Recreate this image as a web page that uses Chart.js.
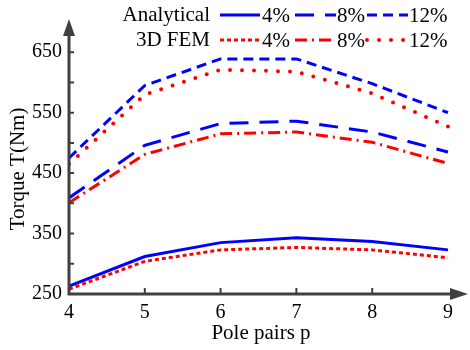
<!DOCTYPE html>
<html>
<head>
<meta charset="utf-8">
<script src="https://cdn.jsdelivr.net/npm/chart.js@4"></script>
<style>
    body { margin: 0; background: #fff; }
    canvas { display: block; }
</style>
</head>
<body>
<canvas id="torqueChart" width="470" height="350"></canvas>
<script>
// Pole pairs on the x axis
const polePairs = [4, 5, 6, 7, 8, 9];

// Torque values (Nm)
const analytical4 = [263, 312, 335, 343, 337, 323];
const analytical8 = [409, 496, 532, 536, 518, 485];
const analytical12 = [475, 595, 639, 639, 598, 550];
const fem4 = [258, 304, 323, 327, 323, 310];
const fem8 = [401, 481, 515, 518, 501, 466];
const fem12 = [465, 580, 621, 618, 582, 527];

// Tick values
const yTickValues = [250, 300, 350, 400, 450, 500, 550, 600, 650];
const yLabelValues = [250, 350, 450, 550, 650];

const rowLabels = ['Analytical', '3D FEM'];
const pctLabels = ['4%', '8%', '12%'];

const BLUE = '#0000ff';
const RED = '#ff0000';
const AXIS = '#404040';
const FONT = 'Liberation Serif, Times New Roman, serif';

function toPoints(values) {
    return values.map((v, i) => ({ x: polePairs[i], y: v }));
}

function makeSeries(label, values, color, dash, width, cap) {
    return {
        label: label,
        data: toPoints(values),
        borderColor: color,
        backgroundColor: color,
        borderWidth: width,
        borderDash: dash,
        borderCapStyle: cap || 'butt',
        pointRadius: 0,
        tension: 0,
        fill: false
    };
}

const datasets = [
    makeSeries('3D FEM 4%', fem4, RED, [4, 3], 3),
    makeSeries('3D FEM 8%', fem8, RED, [12, 5, 2, 5], 3),
    makeSeries('3D FEM 12%', fem12, RED, [0, 12], 4, 'round'),
    makeSeries('Analytical 4%', analytical4, BLUE, [], 3),
    makeSeries('Analytical 8%', analytical8, BLUE, [19, 11], 3),
    makeSeries('Analytical 12%', analytical12, BLUE, [10, 6], 3)
];

// Axes, inward ticks, arrows, titles and the two-row legend
const decorPlugin = {
    id: 'decor',
    afterDraw(chart) {
        const ctx = chart.ctx;
        const area = chart.chartArea;
        const xs = chart.scales.x;
        const ys = chart.scales.y;
        ctx.save();

        // axis lines
        ctx.strokeStyle = AXIS;
        ctx.fillStyle = AXIS;
        ctx.lineWidth = 3;
        ctx.beginPath();
        ctx.moveTo(area.left, area.top + 10);
        ctx.lineTo(area.left, area.bottom);
        ctx.lineTo(area.right - 12, area.bottom);
        ctx.stroke();

        // arrows
        ctx.beginPath();
        ctx.moveTo(area.left, area.top);
        ctx.lineTo(area.left - 6, area.top + 17);
        ctx.lineTo(area.left + 6, area.top + 17);
        ctx.closePath();
        ctx.fill();
        ctx.beginPath();
        ctx.moveTo(area.right, area.bottom);
        ctx.lineTo(area.right - 18, area.bottom - 6);
        ctx.lineTo(area.right - 18, area.bottom + 6);
        ctx.closePath();
        ctx.fill();

        // inward tick marks
        ctx.lineWidth = 2;
        ctx.beginPath();
        yTickValues.forEach(v => {
            const py = ys.getPixelForValue(v);
            ctx.moveTo(area.left, py);
            ctx.lineTo(area.left + 5, py);
        });
        polePairs.slice(1, -1).forEach(v => {
            const px = xs.getPixelForValue(v);
            ctx.moveTo(px, area.bottom);
            ctx.lineTo(px, area.bottom - 6);
        });
        ctx.stroke();

        // axis titles
        ctx.fillStyle = '#000';
        ctx.font = '21px ' + FONT;
        ctx.textAlign = 'center';
        ctx.textBaseline = 'middle';
        ctx.fillText('Pole pairs p', 261, 333);
        ctx.save();
        ctx.translate(18, 169);
        ctx.rotate(-Math.PI / 2);
        ctx.fillText('Torque T(Nm)', 0, 0);
        ctx.restore();

        // legend
        const rowY = [15, 40];
        const segs = [[220, 260], [295, 336], [367, 408]];
        const textX = [262, 337, 409];
        const order = [[3, 4, 5], [0, 1, 2]];
        rowLabels.forEach((name, r) => {
            ctx.fillStyle = '#000';
            ctx.font = '21px ' + FONT;
            ctx.textAlign = 'right';
            ctx.textBaseline = 'middle';
            ctx.fillText(name, 210, rowY[r]);
            order[r].forEach((di, k) => {
                const ds = chart.data.datasets[di];
                ctx.strokeStyle = ds.borderColor;
                ctx.lineWidth = ds.borderWidth;
                ctx.setLineDash(ds.borderDash);
                ctx.lineCap = ds.borderCapStyle;
                ctx.beginPath();
                ctx.moveTo(segs[k][0], rowY[r]);
                ctx.lineTo(segs[k][1], rowY[r]);
                ctx.stroke();
                ctx.setLineDash([]);
                ctx.lineCap = 'butt';
                ctx.textAlign = 'left';
                ctx.fillText(pctLabels[k], textX[k], rowY[r] + 1);
            });
        });

        ctx.restore();
    }
};

new Chart(document.getElementById('torqueChart'), {
    type: 'line',
    data: { datasets: datasets },
    options: {
        responsive: false,
        animation: false,
        layout: { padding: { left: 0, right: 2, top: 10, bottom: 0 } },
        scales: {
            x: {
                type: 'linear',
                min: 4,
                max: 9.264,
                afterBuildTicks: s => { s.ticks = polePairs.map(v => ({ value: v })); },
                afterFit: s => { s.height = 56; },
                grid: { display: false, drawTicks: false },
                border: { display: false },
                ticks: {
                    color: '#000',
                    padding: 7,
                    maxRotation: 0,
                    font: { family: FONT, size: 20 }
                }
            },
            y: {
                type: 'linear',
                min: 250,
                max: 705,
                afterBuildTicks: s => { s.ticks = yLabelValues.map(v => ({ value: v })); },
                afterFit: s => { s.width = 69; },
                grid: { display: false, drawTicks: false },
                border: { display: false },
                ticks: {
                    color: '#000',
                    padding: 7,
                    font: { family: FONT, size: 20 }
                }
            }
        },
        plugins: {
            legend: { display: false },
            tooltip: { enabled: false }
        }
    },
    plugins: [decorPlugin]
});
</script>
</body>
</html>
